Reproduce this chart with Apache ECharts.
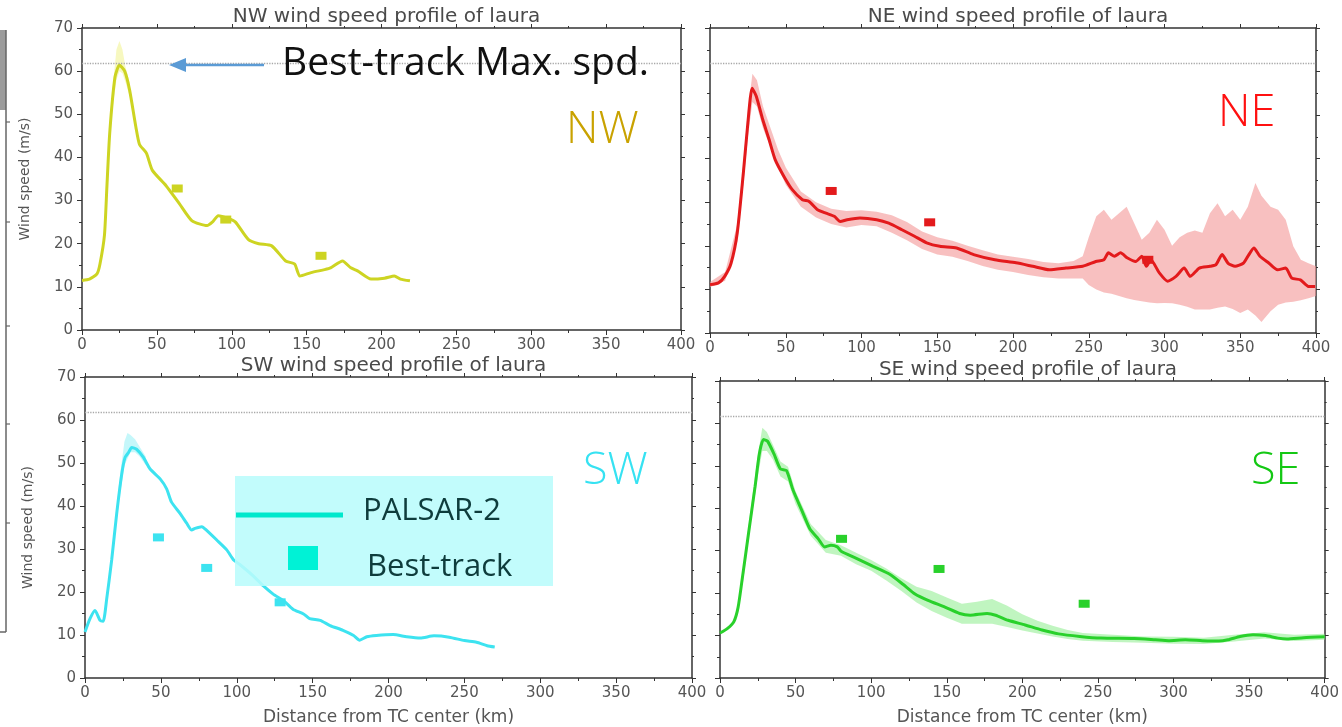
<!DOCTYPE html>
<html>
<head>
<meta charset="utf-8">
<title>Laura wind speed profiles</title>
<script src="https://cdn.jsdelivr.net/npm/echarts@6/dist/echarts.min.js"></script>
<style>
  html, body { margin: 0; padding: 0; background: #ffffff; }
  #chart { width: 1342px; height: 727px; }
</style>
</head>
<body>
<div id="chart"></div>
<script>
// ---- Axis ticks ----
const xTicks = { min: 0, max: 400, interval: 50 };
const yTicks = { min: 0, max: 70, interval: 10 };

// Best-track maximum wind speed (m/s), dotted reference line
const bestTrackMax = 61.8;

// ---- NW quadrant ----
const nwX = [0,5,10,12,15,16.6,18.5,22,25,28.5,31.8,36,38.4,43,47,56,65,73.5,83.5,87,91,98,102.5,111,118,126.7,136,142,145.5,153,162,166,174,179.5,184,193,202,208.6,212.6,219];
const nwY = [11.5,11.8,13,15.3,22,33,45.6,58.6,61.4,60,55.6,47,43,41,37,33.5,29.3,25.3,24.2,25,26.5,25.8,25,21,20,19.5,16,15.3,12.5,13.3,14,14.4,16,14.4,13.7,11.8,12,12.5,11.8,11.4];
const nwBandX = [18,21,23,25,27,29,32];
const nwBandLo = [44,53,58,60,59.5,57.5,54];
const nwBandHi = [47,58,65,67,65,61,57];
const nwBtX = [63.6,96,159.6];
const nwBtY = [32.8,25.6,17.2];

// ---- NE quadrant ----
const neX = [0,5.6,9.7,13.9,18,22,25,27.8,30.6,34.8,39,43,48.7,54.3,61,65.4,71,76.5,82,86,90.5,99,110,118,126.7,135,143,151.7,162.8,174,188,202,213,224,235,246,254.7,260,263,267,271,275.6,281,285,288,291,296.6,302,307.6,313,317,323,330,334,338,342,346.6,352,355,359,363,369,374.6,380,384,389.7,395,399.4];
const neY = [11.1,11.5,13,16,23,36.7,48.2,56.2,54.3,49,44.4,39.8,36,32.9,30.6,30.2,28.3,27.5,26.8,25.6,26,26.4,26,25.2,23.7,22.2,20.7,19.9,19.5,18,16.8,16.1,15.3,14.5,14.9,15.3,16.4,16.8,18.4,17.6,18.4,17.2,16.4,17.6,15.3,16.8,13.8,11.9,13,14.9,13,14.9,15.3,15.7,18,16,15.3,16,17.6,19.5,17.6,16,14.5,14.9,12.6,12.2,10.7,10.7];
const neBandX = [0,10,18,22,25,28,31,35,40,45,50,60,70,80,90,100,110,120,130,140,150,160,170,180,190,200,210,220,230,240,246,250,255,260,265,270,275,280,285,290,295,300,305,310,315,320,325,330,335,340,345,350,355,360,364,370,375,380,385,390,395,400];
const neBandLo = [10.5,12,21,34,45,53,52,47,42.5,38,34,29,26.5,25,24.2,24.8,24.5,23,21.3,19.3,18,17.5,16.5,15.4,14.5,14,13.3,12.8,12.5,12.5,12.5,11,10,9.3,9,8.5,8,7.6,7.3,7,6.8,6.9,6.8,6.5,6,5.4,5.4,5.4,5.8,6.1,5.5,4.6,5.4,4,2.5,5,6.5,7,7.2,7.5,8,8.5];
const neBandHi = [11.7,14,25,39,51,59.5,58,52,47,42,38,32.5,30,28.5,28,28.2,27.8,27,25.5,23.3,22,21.2,20,19,18,17.5,17,16.3,16,16.5,17.6,22,26.8,28.3,26,27.5,29,25.2,21.4,23,26,23.7,20,22,23,23.5,23,27.5,29.8,26.8,28.3,26,29,34.4,31.5,29,28.3,26,19.9,16.8,16,15.3];
const neBtX = [80,145,289];
const neBtY = [32.6,25.4,16.8];

// ---- SW quadrant ----
const swX = [0,3.3,6.6,9.9,12,14.3,17.6,20.9,24.2,26.4,28.6,30.8,34,38.5,42.9,49.5,53.8,57,62.6,67,70.3,72.5,77,80,86.8,93.4,97.8,102,111,117.6,124,130.8,137,144,148,155,161.5,170,177,181,185.7,192,203,212,221,230,240,250,258,265,270];
const swY = [10.7,13.8,15.7,13.4,13.2,18.4,27.5,38.3,47.4,51.3,52.4,53.6,53.2,51.3,48.6,46.3,44,40.9,38.3,36,34.4,34.8,35.2,34.4,32.1,29.8,27.5,26.4,23.7,21.4,19.5,18,16,14.9,13.8,13.4,12.2,11.1,9.9,8.8,9.6,9.9,10.1,9.6,9.3,9.8,9.5,8.7,8.3,7.5,7.2];
const swBandX = [20,23,26,28,30,33,36,40];
const swBandLo = [34,42.5,49.5,51,52.5,52.5,51.5,49.5];
const swBandHi = [37,47,55,57,56.5,55.5,53.8,51.5];
const swBtX = [48.4,80.2,128.6];
const swBtY = [32.7,25.6,17.6];

// ---- SE quadrant ----
const seX = [0,5,9.2,12,14.8,19,23.2,26,28.7,31.5,35.7,39.9,44,48.3,53.9,59.5,65,69.2,73.4,77.6,80.4,90.2,101.3,112.5,121,129,137.6,148.8,158.5,165.5,176.7,182.3,190.6,201.8,213,224,238,252,274,288,296.7,307.9,319,330,336,344,352.6,361,369,375,386,400];
const seY = [10.6,11.7,13.3,16.7,23.6,34.4,45.1,52.8,56.2,55.8,52.8,49.3,48.9,44.3,39.7,35.1,32.8,30.9,31.3,30.9,29.8,28.2,26.3,24.4,22.1,19.8,18.3,16.7,15.2,14.8,15.2,14.8,13.6,12.5,11.3,10.4,9.8,9.4,9.3,9,8.8,9,8.8,8.7,9,9.8,10.2,10,9.4,9.2,9.5,9.7];
const seBandX = [15,20,25,28,31,35,40,45,50,60,70,80,90,100,110,120,130,140,150,160,170,180,190,200,210,220,230,240,260,280,300,320,340,360,380,400];
const seBandLo = [22,35.5,47.5,53.5,53.5,51.5,47.5,46.3,41,33.5,29.5,28.8,26.8,25.3,23,20.5,17.8,15.8,14.2,12.8,12.8,12.8,12,11.2,10.5,9.8,9.2,8.8,8.5,8.3,8.1,8,8.6,9.3,8.7,9];
const seBandHi = [25,39,52.5,59,58,55,51,49.8,44,36.3,32.5,31.3,29.5,27.8,25.8,23.5,21.5,20.5,19,17.5,18,18.6,17,15,13.5,12.3,11.3,10.6,10.2,9.8,9.7,9.5,10.2,10.8,10.2,10.4];
const seBtX = [80.4,144.9,240.9];
const seBtY = [32.8,25.7,17.5];

// ---- Panel setup ----
const panels = [
  { title: 'NW wind speed profile of laura', x: nwX, y: nwY, bx: nwBandX, lo: nwBandLo, hi: nwBandHi, btx: nwBtX, bty: nwBtY,
    line: '#CDD422', band: 'rgba(240,242,140,0.55)', box: [82, 28, 599, 302], yLabels: true, xName: '' },
  { title: 'NE wind speed profile of laura', x: neX, y: neY, bx: neBandX, lo: neBandLo, hi: neBandHi, btx: neBtX, bty: neBtY,
    line: '#E31A1C', band: 'rgba(244,150,150,0.6)', box: [710, 28, 606, 305], yLabels: false, xName: '' },
  { title: 'SW wind speed profile of laura', x: swX, y: swY, bx: swBandX, lo: swBandLo, hi: swBandHi, btx: swBtX, bty: swBtY,
    line: '#3DE3F0', band: 'rgba(150,240,246,0.55)', box: [85, 377, 607, 306], yLabels: true, xName: 'Distance from TC center (km)' },
  { title: 'SE wind speed profile of laura', x: seX, y: seY, bx: seBandX, lo: seBandLo, hi: seBandHi, btx: seBtX, bty: seBtY,
    line: '#29D12B', band: 'rgba(150,238,150,0.6)', box: [720, 381, 606, 306], yLabels: false, xName: 'Distance from TC center (km)' }
];

const axisFont = 'DejaVu Sans, sans-serif';
const frame = { show: true, onZero: false, lineStyle: { color: '#333', width: 1.5 } };
const tickStyle = { color: '#333', width: 1 };

const grid = [], xAxis = [], yAxis = [], series = [], title = [];

panels.forEach((p, i) => {
  const [l, t, w, h] = p.box;
  grid.push({ left: l, top: t, width: w, height: h, containLabel: false });
  title.push({
    text: p.title, left: l + w / 2, top: t - 26, textAlign: 'center',
    textStyle: { fontFamily: axisFont, fontSize: 20, fontWeight: 'normal', color: '#4a4a4a' }
  });
  // bottom and top x axes (frame with ticks on both sides)
  xAxis.push({
    type: 'value', gridIndex: i, position: 'bottom', ...xTicks,
    axisLine: frame, splitLine: { show: false },
    axisTick: { show: true, length: 5, lineStyle: tickStyle },
    minorTick: { show: true, splitNumber: 2, length: 3, lineStyle: tickStyle },
    axisLabel: { margin: 8, color: '#555', fontFamily: axisFont, fontSize: 15 },
    name: p.xName, nameLocation: 'middle', nameGap: 31,
    nameTextStyle: { fontFamily: axisFont, fontSize: 17, color: '#555' }
  });
  xAxis.push({
    type: 'value', gridIndex: i, position: 'top', ...xTicks,
    axisLine: frame, splitLine: { show: false },
    axisTick: { show: true, length: 4, lineStyle: tickStyle },
    minorTick: { show: true, splitNumber: 2, length: 2, lineStyle: tickStyle },
    axisLabel: { show: false }
  });
  yAxis.push({
    type: 'value', gridIndex: i, position: 'left', ...yTicks,
    axisLine: frame, splitLine: { show: false },
    axisTick: { show: true, length: 5, lineStyle: tickStyle },
    minorTick: { show: true, splitNumber: 2, length: 3, lineStyle: tickStyle },
    axisLabel: { show: p.yLabels, margin: 9, color: '#555', fontFamily: axisFont, fontSize: 15 },
    name: p.yLabels ? 'Wind speed (m/s)' : '', nameLocation: 'middle', nameGap: 50,
    nameTextStyle: { fontFamily: axisFont, fontSize: 14, color: '#555' }
  });
  yAxis.push({
    type: 'value', gridIndex: i, position: 'right', ...yTicks,
    axisLine: frame, splitLine: { show: false },
    axisTick: { show: true, length: 4, lineStyle: tickStyle },
    minorTick: { show: true, splitNumber: 2, length: 2, lineStyle: tickStyle },
    axisLabel: { show: false }
  });

  const ax = 2 * i;
  // spread band between lower and upper profile
  series.push({
    type: 'custom', xAxisIndex: ax, yAxisIndex: ax, data: [[0, 0]], clip: true, silent: true, z: 1,
    renderItem: function (params, api) {
      const pts = [];
      for (let k = 0; k < p.bx.length; k++) pts.push(api.coord([p.bx[k], p.hi[k]]));
      for (let k = p.bx.length - 1; k >= 0; k--) pts.push(api.coord([p.bx[k], p.lo[k]]));
      return { type: 'polygon', shape: { points: pts }, style: { fill: p.band } };
    }
  });
  // mean PALSAR-2 profile with best-track maximum reference line
  series.push({
    type: 'line', name: 'PALSAR-2', xAxisIndex: ax, yAxisIndex: ax, z: 3,
    data: p.x.map((v, k) => [v, p.y[k]]),
    showSymbol: false, smooth: 0.2, silent: true,
    lineStyle: { color: p.line, width: 3 },
    markLine: {
      silent: true, symbol: 'none', label: { show: false },
      lineStyle: { color: '#a8a8a8', type: 'dotted', width: 1.3 },
      data: [{ yAxis: bestTrackMax }]
    }
  });
  // best-track wind radii
  series.push({
    type: 'scatter', name: 'Best-track', xAxisIndex: ax, yAxisIndex: ax, z: 4,
    symbol: 'rect', symbolSize: [11, 8], silent: true,
    itemStyle: { color: p.line, opacity: 1 },
    data: p.btx.map((v, k) => [v, p.bty[k]])
  });
});

const labelFont = '"Open Sans", "Noto Sans", sans-serif';
const graphic = [
  // edge of the neighbouring axis frame on the far left
  { type: 'rect', shape: { x: 0, y: 30, width: 6, height: 80 }, style: { fill: '#9c9c9c' } },
  { type: 'line', shape: { x1: 6, y1: 30, x2: 6, y2: 632 }, style: { stroke: '#666', lineWidth: 1.5 } },
  ...[122, 222, 326, 424, 523].map(yy => ({ type: 'line', shape: { x1: 6, y1: yy, x2: 10, y2: yy }, style: { stroke: '#666', lineWidth: 1.2 } })),
  { type: 'line', shape: { x1: 0, y1: 632, x2: 6, y2: 632 }, style: { stroke: '#666', lineWidth: 1.5 } },

  // best-track maximum annotation
  { type: 'line', z: 10, shape: { x1: 264, y1: 65, x2: 184, y2: 65 }, style: { stroke: '#5B9BD5', lineWidth: 2.5 } },
  { type: 'polygon', z: 10, shape: { points: [[169, 65], [186, 58], [186, 72]] }, style: { fill: '#5B9BD5' } },
  { type: 'text', z: 10, left: 282, top: 44, style: { text: 'Best-track Max. spd.', font: '39px ' + labelFont, fill: '#111' } },

  // quadrant labels
  { type: 'text', z: 10, left: 566, top: 108, style: { text: 'NW', font: '300 45px ' + labelFont, fill: '#C9A200' } },
  { type: 'text', z: 10, left: 1218, top: 91, style: { text: 'NE', font: '300 45px ' + labelFont, fill: '#FF1010' } },
  { type: 'text', z: 10, left: 583, top: 449, style: { text: 'SW', font: '300 45px ' + labelFont, fill: '#36E2F2' } },
  { type: 'text', z: 10, left: 1251, top: 449, style: { text: 'SE', font: '300 45px ' + labelFont, fill: '#14C814' } },

  // legend box
  { type: 'rect', z: 20, shape: { x: 235, y: 476, width: 318, height: 110 }, style: { fill: 'rgba(186,252,252,0.88)' } },
  { type: 'line', z: 21, shape: { x1: 236, y1: 515, x2: 343, y2: 515 }, style: { stroke: '#00E8CC', lineWidth: 5 } },
  { type: 'rect', z: 21, shape: { x: 288, y: 546, width: 30, height: 24 }, style: { fill: '#00F2D6' } },
  { type: 'text', z: 21, left: 363, top: 496, style: { text: 'PALSAR-2', font: '31px ' + labelFont, fill: '#0E3C3C' } },
  { type: 'text', z: 21, left: 367, top: 552, style: { text: 'Best-track', font: '31px ' + labelFont, fill: '#0E3C3C' } }
];

const chart = echarts.init(document.getElementById('chart'), null, { renderer: 'canvas' });
chart.setOption({
  animation: false,
  backgroundColor: '#ffffff',
  title, grid, xAxis, yAxis, series, graphic
});
</script>
</body>
</html>
